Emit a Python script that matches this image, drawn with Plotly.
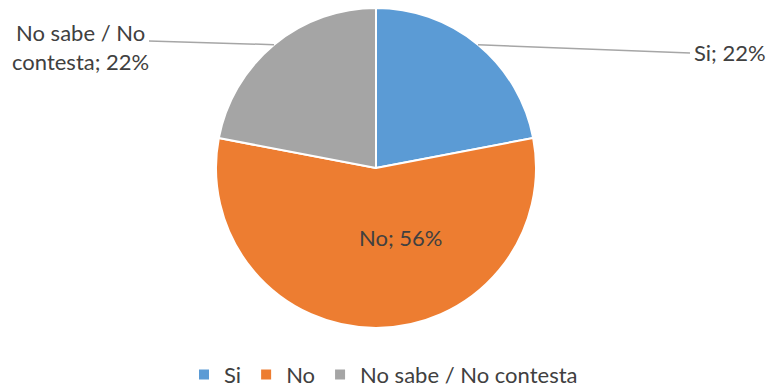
import math
import plotly.graph_objects as go

labels = ["Si", "No", "No sabe / No contesta"]
values = [22, 56, 22]
colors = ["#5B9BD5", "#ED7D31", "#A5A5A5"]
label_text = ["Si; 22%", "No; 56%", "No sabe / No<br>contesta; 22%"]

W, H = 767, 391
cx, cy, R = 376, 168, 160
FONT = "Lato, Carlito, Calibri, sans-serif"
TXT = "#404040"
FS = 22

fig = go.Figure(go.Pie(
    labels=labels, values=values, sort=False, direction="clockwise", rotation=0,
    marker=dict(colors=colors, line=dict(color="white", width=2)),
    textinfo="none", hoverinfo="label+percent",
    domain=dict(x=[(cx - R) / W, (cx + R) / W], y=[(H - cy - R) / H, (H - cy + R) / H]),
))

def px2paper(x, y):
    return x / W, 1 - y / H

total = sum(values)
cum = 0
mids = []
for v in values:
    mids.append((cum + v / 2) / total * 2 * math.pi)
    cum += v

shapes = []
annotations = []
# Si: leader line to the right
a = mids[0]
x0, y0 = cx + R * math.sin(a), cy - R * math.cos(a)
shapes.append(dict(type="line", xref="paper", yref="paper",
                   x0=px2paper(x0, y0)[0], y0=px2paper(x0, y0)[1],
                   x1=px2paper(690, 53)[0], y1=px2paper(690, 53)[1],
                   line=dict(color="#A6A6A6", width=1.5)))
ax, ay = px2paper(692, 52)
annotations.append(dict(x=ax, y=ay, xref="paper", yref="paper", text=label_text[0],
                        showarrow=False, xanchor="left", yanchor="middle",
                        font=dict(family=FONT, size=FS, color=TXT)))
# No: inside
ax, ay = px2paper(400, 237)
annotations.append(dict(x=ax, y=ay, xref="paper", yref="paper", text=label_text[1],
                        showarrow=False, xanchor="center", yanchor="middle",
                        font=dict(family=FONT, size=FS, color=TXT)))
# No sabe: leader line to the left
a = mids[2]
x0, y0 = cx + R * math.sin(a), cy - R * math.cos(a)
shapes.append(dict(type="line", xref="paper", yref="paper",
                   x0=px2paper(x0, y0)[0], y0=px2paper(x0, y0)[1],
                   x1=px2paper(149, 41)[0], y1=px2paper(149, 41)[1],
                   line=dict(color="#A6A6A6", width=1.5)))
ax, ay = px2paper(80, 47)
annotations.append(dict(x=ax, y=ay, xref="paper", yref="paper", text=label_text[2],
                        showarrow=False, xanchor="center", yanchor="middle", align="center",
                        font=dict(family=FONT, size=FS, color=TXT)))

fig.update_layout(
    width=W, height=H, margin=dict(l=0, r=0, t=0, b=0, autoexpand=False),
    paper_bgcolor="white", plot_bgcolor="white",
    font=dict(family=FONT, size=FS, color=TXT),
    showlegend=True,
    legend=dict(orientation="h", x=0.5, xanchor="center", y=-0.012, yanchor="bottom",
                font=dict(family=FONT, size=FS, color=TXT), itemwidth=30,
                traceorder="normal", borderwidth=0),
    shapes=shapes, annotations=annotations,
)
fig.write_html("out.html")
